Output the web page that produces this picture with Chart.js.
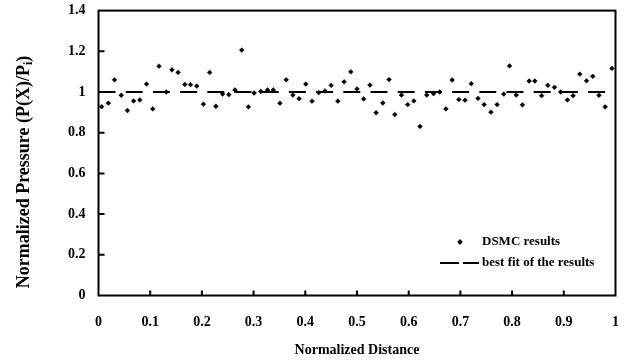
<!DOCTYPE html>
<html>
<head>
<meta charset="utf-8">
<script src="https://cdn.jsdelivr.net/npm/chart.js@4.4.1/dist/chart.umd.min.js"></script>
<style>
    body { margin: 0; background: #fff; }
    canvas { display: block; }
</style>
</head>
<body>
<canvas id="pressureChart" width="627" height="363"></canvas>
<script>
// normalized distance of each DSMC sample
const dsmcX = [
    0.006, 0.019, 0.031, 0.044, 0.056, 0.068, 0.080, 0.093, 0.105, 0.117,
    0.131, 0.142, 0.154, 0.167, 0.178, 0.190, 0.203, 0.215, 0.227, 0.240,
    0.252, 0.264, 0.277, 0.290, 0.301, 0.314, 0.327, 0.338, 0.351, 0.363,
    0.376, 0.388, 0.401, 0.413, 0.426, 0.438, 0.450, 0.463, 0.475, 0.488,
    0.500, 0.513, 0.525, 0.537, 0.550, 0.562, 0.573, 0.586, 0.598, 0.610,
    0.622, 0.635, 0.648, 0.660, 0.672, 0.684, 0.697, 0.709, 0.721, 0.734,
    0.746, 0.759, 0.771, 0.784, 0.795, 0.808, 0.820, 0.833, 0.844, 0.857,
    0.869, 0.882, 0.894, 0.907, 0.918, 0.931, 0.944, 0.956, 0.968, 0.980,
    0.993
];

// normalized pressure P(X)/Pi at each sample
const dsmcP = [
    0.928, 0.945, 1.060, 0.984, 0.909, 0.956, 0.961, 1.039, 0.917, 1.127,
    1.000, 1.109, 1.096, 1.037, 1.036, 1.029, 0.940, 1.096, 0.930, 0.990,
    0.987, 1.010, 1.206, 0.927, 0.995, 1.003, 1.010, 1.010, 0.945, 1.060,
    0.985, 0.967, 1.039, 0.955, 0.997, 1.005, 1.033, 0.955, 1.050, 1.099,
    1.015, 0.966, 1.034, 0.898, 0.946, 1.061, 0.889, 0.985, 0.938, 0.956,
    0.831, 0.985, 0.992, 1.000, 0.917, 1.059, 0.963, 0.960, 1.041, 0.969,
    0.938, 0.901, 0.938, 0.990, 1.128, 0.985, 0.937, 1.054, 1.054, 0.982,
    1.033, 1.023, 1.000, 0.961, 0.982, 1.088, 1.055, 1.077, 0.984, 0.927,
    1.116
];

// best fit line
const fitX = [0, 1];
const fitP = [1, 1];

const xTickLabels = ['0', '0.1', '0.2', '0.3', '0.4', '0.5', '0.6', '0.7', '0.8', '0.9', '1'];
const yTickLabels = ['0', '0.2', '0.4', '0.6', '0.8', '1', '1.2', '1.4'];

const serif = "'Liberation Serif', 'Times New Roman', serif";
const fitDash = [17, 10.2];

// frame, inward tick marks, rotated y title with subscript, and the inset legend
const decorations = {
    id: 'decorations',
    afterDraw(chart) {
        const ctx = chart.ctx;
        const area = chart.chartArea;
        const xs = chart.scales.x;
        const ys = chart.scales.y;
        ctx.save();
        ctx.strokeStyle = '#000';
        ctx.lineWidth = 2;
        ctx.strokeRect(area.left, area.top, area.right - area.left, area.bottom - area.top);

        ctx.lineWidth = 2;
        ctx.beginPath();
        xs.ticks.forEach(t => {
            if (t.value <= xs.min || t.value >= xs.max) return;
            const px = xs.getPixelForValue(t.value);
            ctx.moveTo(px, area.bottom);
            ctx.lineTo(px, area.bottom - 5);
        });
        ys.ticks.forEach(t => {
            if (t.value <= ys.min || t.value >= ys.max) return;
            const py = ys.getPixelForValue(t.value);
            ctx.moveTo(area.left, py);
            ctx.lineTo(area.left + 6, py);
        });
        ctx.stroke();

        // y axis title
        ctx.fillStyle = '#000';
        const main = 'Normalized Pressure (P(X)/P';
        const sub = 'i';
        const tail = ')';
        ctx.font = 'bold 18px ' + serif;
        const wMain = ctx.measureText(main).width;
        const wTail = ctx.measureText(tail).width;
        ctx.font = 'bold 12px ' + serif;
        const wSub = ctx.measureText(sub).width;
        const total = wMain + wSub + wTail;
        ctx.translate(24, 172);
        ctx.rotate(-Math.PI / 2);
        ctx.textBaseline = 'middle';
        ctx.textAlign = 'left';
        let pos = -total / 2;
        ctx.font = 'bold 18px ' + serif;
        ctx.fillText(main, pos, 0);
        pos += wMain;
        ctx.font = 'bold 12px ' + serif;
        ctx.fillText(sub, pos, 5);
        pos += wSub;
        ctx.font = 'bold 18px ' + serif;
        ctx.fillText(tail, pos, 0);
        ctx.restore();

        // legend
        const ds = chart.data.datasets;
        ctx.save();
        ctx.fillStyle = '#000';
        ctx.strokeStyle = '#000';
        ctx.font = 'bold 13px ' + serif;
        ctx.textBaseline = 'middle';
        ctx.textAlign = 'left';
        Chart.helpers.drawPoint(ctx, { pointStyle: 'rectRot', radius: 2.4, borderWidth: 0.5 }, 460, 242);
        ctx.fillText(ds[0].label, 482, 242);
        ctx.lineWidth = 2;
        ctx.setLineDash([19, 4]);
        ctx.beginPath();
        ctx.moveTo(440, 263);
        ctx.lineTo(479, 263);
        ctx.stroke();
        ctx.setLineDash([]);
        ctx.fillText(ds[1].label, 482, 263);
        ctx.restore();
    }
};

new Chart(document.getElementById('pressureChart'), {
    type: 'scatter',
    data: {
        datasets: [
            {
                label: 'DSMC results',
                data: dsmcX.map((x, i) => ({ x: x, y: dsmcP[i] })),
                pointStyle: 'rectRot',
                pointRadius: 2.4,
                pointBackgroundColor: '#000',
                pointBorderColor: '#000',
                pointBorderWidth: 0.5,
                showLine: false
            },
            {
                label: 'best fit of the results',
                type: 'line',
                data: fitX.map((x, i) => ({ x: x, y: fitP[i] })),
                borderColor: '#000',
                borderWidth: 2,
                borderDash: fitDash,
                pointRadius: 0,
                fill: false
            }
        ]
    },
    options: {
        responsive: false,
        animation: false,
        layout: { padding: { top: 10.6, right: 11.5, left: 0, bottom: 0 } },
        plugins: {
            legend: { display: false },
            tooltip: { enabled: false }
        },
        scales: {
            x: {
                type: 'linear',
                min: 0,
                max: 1,
                grid: { display: false, drawTicks: false },
                border: { display: false },
                ticks: {
                    stepSize: 0.1,
                    padding: 18,
                    color: '#000',
                    font: { family: serif, size: 14, weight: 'bold' },
                    maxRotation: 0,
                    callback: (v) => xTickLabels[Math.round(v * 10)]
                },
                title: {
                    display: true,
                    text: 'Normalized Distance',
                    color: '#000',
                    font: { family: serif, size: 14, weight: 'bold' },
                    padding: { top: 0, bottom: 4 }
                },
                afterFit(scale) {
                    scale.height = 67.5;
                    scale.paddingLeft = 0;
                    scale.paddingRight = 0;
                }
            },
            y: {
                type: 'linear',
                min: 0,
                max: 1.4,
                grid: { display: false, drawTicks: false },
                border: { display: false },
                ticks: {
                    stepSize: 0.2,
                    padding: 13,
                    color: '#000',
                    font: { family: serif, size: 14, weight: 'bold' },
                    callback: (v) => yTickLabels[Math.round(v * 5)]
                },
                afterFit(scale) {
                    scale.width = 98.5;
                    scale.paddingTop = 0;
                    scale.paddingBottom = 0;
                }
            }
        }
    },
    plugins: [decorations]
});
</script>
</body>
</html>
